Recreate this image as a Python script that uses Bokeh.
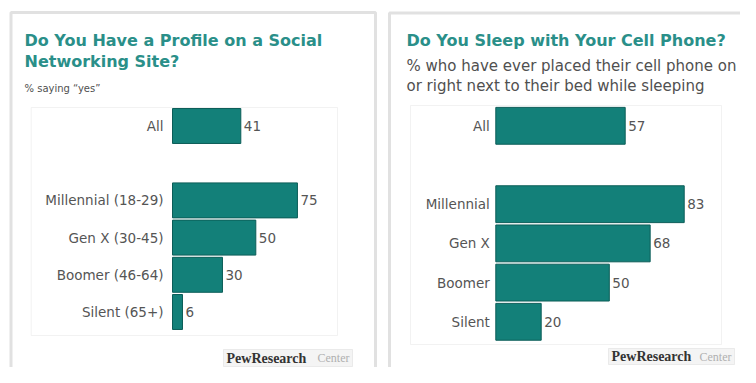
from bokeh.plotting import figure
from bokeh.layouts import row
from bokeh.models import Range1d, BoxAnnotation, Label, ColumnDataSource
from bokeh.core.properties import value
from bokeh.embed import file_html
from bokeh.resources import INLINE

# ---------------- data ----------------
sns_title = ["Do You Have a Profile on a Social", "Networking Site?"]
sns_subtitle = ["% saying \u201cyes\u201d"]
sns_groups = ["Millennial (18-29)", "Gen X (30-45)", "Boomer (46-64)", "Silent (65+)"]
sns_values = [75, 50, 30, 6]
sns_all_label = "All"
sns_all_value = 41

sleep_title = ["Do You Sleep with Your Cell Phone?"]
sleep_subtitle = ["% who have ever placed their cell phone on",
                  "or right next to their bed while sleeping"]
sleep_groups = ["Millennial", "Gen X", "Boomer", "Silent"]
sleep_values = [83, 68, 50, 20]
sleep_all_label = "All"
sleep_all_value = 57

logo_main = "PewResearch"
logo_tail = "Center"

# ---------------- styles ----------------
TEAL = "#138079"
TEAL_EDGE = "#0c5d58"
TITLE_TEAL = "#2a8f89"
FONT = "DejaVu Sans"


def make_panel(title_lines, sub_lines, groups, vals, all_label, all_val, cfg):
    W, H = cfg["w"], cfg["h"]
    bar0, sx = cfg["bar0"], cfg["sx"]      # pixel of value 0, pixels per unit
    y0, sy = cfg["y0"], cfg["sy"]          # pixel of last row, pixels per row

    def X(px):
        return (px - bar0) / sx

    def Y(py):
        return (y0 - py) / sy

    p = figure(width=W, height=H, output_backend="svg",
               toolbar_location=None, x_axis_location=None, y_axis_location=None,
               x_range=Range1d(X(0), X(W)), y_range=Range1d(Y(H), Y(0)),
               min_border_left=0, min_border_right=0,
               min_border_top=0, min_border_bottom=0,
               background_fill_color="white", border_fill_color="white")
    p.grid.visible = False
    p.outline_line_color = None

    # outer panel frame
    fl, fr, ft, fb = cfg["frame"]
    p.add_layout(BoxAnnotation(left=X(fl), right=X(fr), top=Y(ft), bottom=Y(fb),
                               fill_alpha=0, line_color="#9b9b9b", line_width=3))
    # inner chart box
    il, ir, it, ib = cfg["inner"]
    p.add_layout(BoxAnnotation(left=X(il), right=X(ir), top=Y(it), bottom=Y(ib),
                               fill_alpha=0, line_color="#d4d4d4", line_width=1))

    n = len(groups)
    labels = [all_label] + list(groups)
    values = [all_val] + list(vals)
    ypos = [n + 1] + [n - 1 - i for i in range(n)]
    src = ColumnDataSource(dict(y=ypos, v=values, lab=labels,
                                txt=[str(v) for v in values]))

    p.hbar(y="y", left=0, right="v", height=0.94, source=src,
           fill_color=TEAL, line_color=TEAL_EDGE, line_width=1)
    p.text(x=0, y="y", text="lab", source=src, x_offset=cfg["lab_off"],
           text_align="right", text_baseline="middle",
           text_font=value(FONT), text_font_size=cfg["lab_fs"], text_color="#555555")
    p.text(x="v", y="y", text="txt", source=src, x_offset=3,
           text_align="left", text_baseline="middle",
           text_font=value(FONT), text_font_size=cfg["lab_fs"], text_color="#555555")

    # titles
    for t, by in zip(title_lines, cfg["tys"]):
        p.add_layout(Label(x=X(cfg["tx"]), y=Y(by), text=t,
                           text_align="left", text_baseline="alphabetic",
                           text_font=FONT, text_font_style="bold",
                           text_font_size="16px", text_color=TITLE_TEAL))
    for t, by in zip(sub_lines, cfg["sys"]):
        p.add_layout(Label(x=X(cfg["tx"]), y=Y(by), text=t,
                           text_align="left", text_baseline="alphabetic",
                           text_font=FONT, text_font_size=cfg["sub_fs"],
                           text_color="#505050"))

    # logo
    lx0, lx1, ly0, ly1 = cfg["logo"]
    p.add_layout(BoxAnnotation(left=X(lx0), right=X(lx1), top=Y(ly0), bottom=Y(ly1),
                               fill_color="#f4f4f4", fill_alpha=1,
                               line_color="#c8c8c8", line_width=1))
    p.add_layout(Label(x=X(lx0 + 3), y=Y((ly0 + ly1) / 2), text=logo_main,
                       text_align="left", text_baseline="middle",
                       text_font="Liberation Serif", text_font_style="bold",
                       text_font_size="14px", text_color="#333333"))
    p.add_layout(Label(x=X(lx1 - 3), y=Y((ly0 + ly1) / 2), text=logo_tail,
                       text_align="right", text_baseline="middle",
                       text_font="Liberation Serif",
                       text_font_size="12px", text_color="#b0b0b0"))
    return p


left_cfg = dict(w=386, h=367, bar0=172, sx=1.666, y0=311.5, sy=37.2,
                lab_off=-9, lab_fs="13.5px", sub_fs="10px",
                frame=(10.5, 375, 12, 420),
                inner=(30.7, 337, 107, 335),
                tx=24, tys=[40, 61], sys=[88],
                logo=(223, 352, 349, 366))
right_cfg = dict(w=354, h=367, bar0=109.3, sx=2.27, y0=321.3, sy=39.2,
                 lab_off=-6, lab_fs="13.5px", sub_fs="15px",
                 frame=(3, 420, 12.5, 420),
                 inner=(24, 335, 105, 344),
                 tx=20, tys=[40], sys=[65, 85],
                 logo=(222, 348, 348, 364))

p1 = make_panel(sns_title, sns_subtitle, sns_groups, sns_values,
                sns_all_label, sns_all_value, left_cfg)
p2 = make_panel(sleep_title, sleep_subtitle, sleep_groups, sleep_values,
                sleep_all_label, sleep_all_value, right_cfg)

layout = row(p1, p2, spacing=0)
open("out.html", "w").write(file_html(layout, INLINE))
